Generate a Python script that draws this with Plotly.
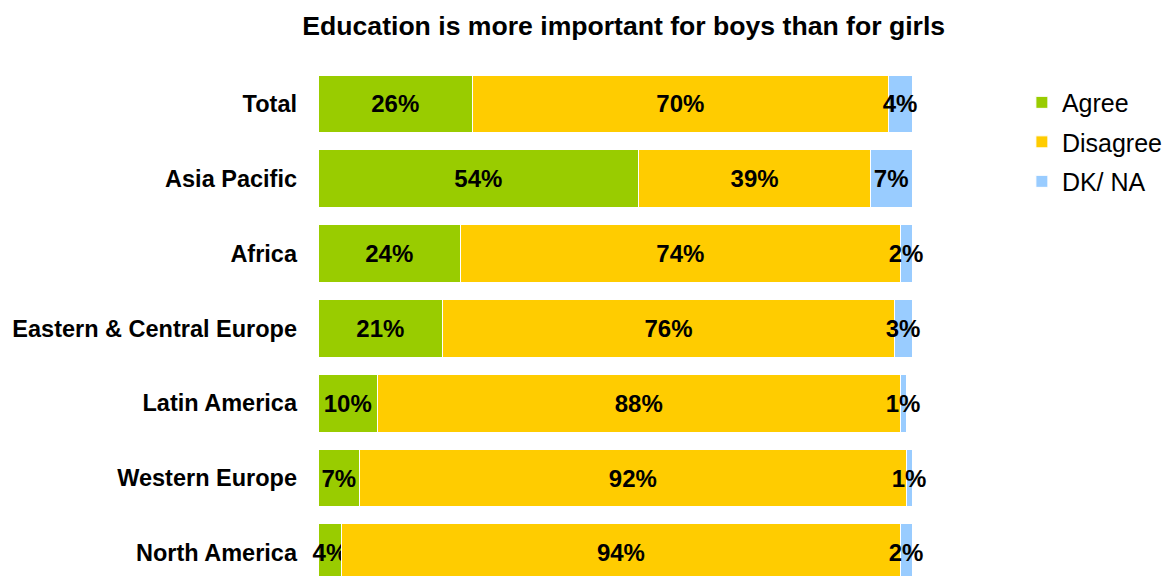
import plotly.graph_objects as go

categories = ["Total", "Asia Pacific", "Africa", "Eastern & Central Europe",
              "Latin America", "Western Europe", "North America"]
agree = [26, 54, 24, 21, 10, 7, 4]
disagree = [70, 39, 74, 76, 88, 92, 94]
dkna = [4, 7, 2, 3, 1, 1, 2]

series = [("Agree", agree, "#99CC00"),
          ("Disagree", disagree, "#FFCC00"),
          ("DK/ NA", dkna, "#99CCFF")]

FONT = "Liberation Sans, Arial, sans-serif"

fig = go.Figure()
for name, vals, color in series:
    fig.add_trace(go.Bar(
        y=categories, x=vals, name=name, orientation="h",
        marker=dict(color=color, line=dict(color="white", width=1)),
        text=[f"{v}%" for v in vals],
        textposition="inside", insidetextanchor="middle",
        textangle=0, constraintext="none", cliponaxis=False,
        textfont=dict(family=FONT, size=24, color="black", weight="bold"),
        legendgroup=name,
        hoverinfo="skip",
    ))

fig.update_layout(
    barmode="stack",
    bargap=0.225,
    width=1168, height=576,
    margin=dict(l=318, r=256, t=60, b=0, autoexpand=False),
    paper_bgcolor="white", plot_bgcolor="white",
    uniformtext=dict(minsize=24, mode="show"),
    title=dict(text="<b>Education is more important for boys than for girls</b>",
               x=0.534, xref="container", xanchor="center",
               y=1 - 26 / 576, yref="container", yanchor="middle",
               font=dict(family=FONT, size=26.6, color="black")),
    legend=dict(x=1.185, xanchor="left", y=0.962, yanchor="top",
                font=dict(family=FONT, size=25, color="black"),
                traceorder="grouped", tracegroupgap=4,
                bgcolor="rgba(0,0,0,0)"),
    xaxis=dict(range=[0, 100], visible=False, fixedrange=True),
    yaxis=dict(categoryorder="array", categoryarray=categories,
               range=[6.31, -0.588], showline=False, showgrid=False,
               ticks="", ticklabelstandoff=20,
               tickfont=dict(family=FONT, size=23.5, color="black", weight="bold")),
)

fig.write_html("out.html")
